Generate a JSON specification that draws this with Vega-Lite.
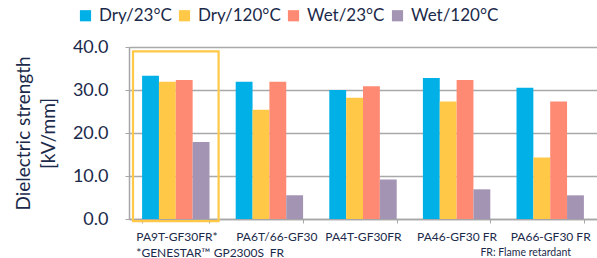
{
  "$schema": "https://vega.github.io/schema/vega-lite/v6.json",
  "autosize": "none",
  "width": 468,
  "height": 172,
  "padding": {"left": 129, "top": 47, "right": 0, "bottom": 39},
  "config": {
    "font": "Lato",
    "view": {"stroke": null},
    "axis": {"labelColor": "#1B2A4A", "titleColor": "#1B2A4A", "titleFontWeight": "normal"},
    "axisY": {
      "titleFontSize": 19, "titleLineHeight": 25, "titlePadding": 14,
      "labelFontSize": 18, "format": ".1f", "values": [0, 10, 20, 30, 40], "labelOverlap": false,
      "labelPadding": 17, "ticks": true, "tickSize": 4, "tickColor": "#A6A6A6", "domainColor": "#A6A6A6", "domainWidth": 1.5,
      "grid": true, "gridColor": "#A9A9A9", "gridWidth": 1.4
    },
    "axisX": {
      "labelAngle": 0, "labelFontSize": 12, "labelLineHeight": 16,
      "domainColor": "#A6A6A6", "domainWidth": 1.5, "tickColor": "#A6A6A6", "tickBand": "extent", "tickSize": 4, "labelPadding": 8
    },
    "legend": {"labelColor": "#1B2A4A"}
  },
  "title": {"text": "FR: Flame retardant", "orient": "bottom", "anchor": "end", "fontSize": 10.5, "fontWeight": "normal", "color": "#1B2A4A", "offset": -10, "dx": -26},
  "datasets": {
    "bars": [
      {"material": "PA9T-GF30FR*", "condition": "Dry/23°C", "value": 33.3},
      {"material": "PA9T-GF30FR*", "condition": "Dry/120°C", "value": 31.9},
      {"material": "PA9T-GF30FR*", "condition": "Wet/23°C", "value": 32.3},
      {"material": "PA9T-GF30FR*", "condition": "Wet/120°C", "value": 17.9},
      {"material": "PA6T/66-GF30 FR", "condition": "Dry/23°C", "value": 31.9},
      {"material": "PA6T/66-GF30 FR", "condition": "Dry/120°C", "value": 25.4},
      {"material": "PA6T/66-GF30 FR", "condition": "Wet/23°C", "value": 31.9},
      {"material": "PA6T/66-GF30 FR", "condition": "Wet/120°C", "value": 5.5},
      {"material": "PA4T-GF30FR", "condition": "Dry/23°C", "value": 30.0},
      {"material": "PA4T-GF30FR", "condition": "Dry/120°C", "value": 28.2},
      {"material": "PA4T-GF30FR", "condition": "Wet/23°C", "value": 30.9},
      {"material": "PA4T-GF30FR", "condition": "Wet/120°C", "value": 9.2},
      {"material": "PA46-GF30 FR", "condition": "Dry/23°C", "value": 32.8},
      {"material": "PA46-GF30 FR", "condition": "Dry/120°C", "value": 27.3},
      {"material": "PA46-GF30 FR", "condition": "Wet/23°C", "value": 32.3},
      {"material": "PA46-GF30 FR", "condition": "Wet/120°C", "value": 6.9},
      {"material": "PA66-GF30 FR", "condition": "Dry/23°C", "value": 30.5},
      {"material": "PA66-GF30 FR", "condition": "Dry/120°C", "value": 14.3},
      {"material": "PA66-GF30 FR", "condition": "Wet/23°C", "value": 27.3},
      {"material": "PA66-GF30 FR", "condition": "Wet/120°C", "value": 5.5}
    ],
    "highlight": [
      {"material": "PA9T-GF30FR*", "value": 39.0, "bottom": -0.5}
    ]
  },
  "layer": [
    {
      "data": {"name": "bars"},
      "mark": {"type": "bar"},
      "encoding": {
        "x": {
          "field": "material", "type": "nominal",
          "sort": ["PA9T-GF30FR*", "PA6T/66-GF30 FR", "PA4T-GF30FR", "PA46-GF30 FR", "PA66-GF30 FR"],
          "scale": {"domain": ["PA9T-GF30FR*", "PA6T/66-GF30 FR", "PA4T-GF30FR", "PA46-GF30 FR", "PA66-GF30 FR"], "paddingInner": 0.28, "paddingOuter": 0.14},
          "axis": {
            "title": null,
            "labelAlign": {"condition": {"test": "datum.value == 'PA9T-GF30FR*'", "value": "left"}, "value": "center"},
            "labelOffset": {"condition": [{"test": "datum.value == 'PA9T-GF30FR*'", "value": -40}, {"test": "datum.value == 'PA6T/66-GF30 FR'", "value": 7}], "value": 0},
            "labelExpr": "datum.label == 'PA9T-GF30FR*' ? ['PA9T-GF30FR*', '*GENESTAR™ GP2300S'] : datum.label == 'PA6T/66-GF30 FR' ? ['PA6T/66-GF30', 'FR'] : datum.label"
          }
        },
        "xOffset": {"field": "condition", "type": "nominal", "sort": ["Dry/23°C", "Dry/120°C", "Wet/23°C", "Wet/120°C"], "scale": {"paddingInner": 0, "paddingOuter": 0}},
        "y": {
          "field": "value", "type": "quantitative",
          "scale": {"domain": [0, 40]},
          "axis": {"title": ["Dielectric strength", "[kV/mm]"]}
        },
        "color": {
          "field": "condition", "type": "nominal",
          "scale": {"domain": ["Dry/23°C", "Dry/120°C", "Wet/23°C", "Wet/120°C"], "range": ["#00B0E6", "#FFC847", "#FF8A74", "#A394B4"]},
          "legend": {
            "title": null, "orient": "none", "direction": "horizontal", "legendX": -52, "legendY": -40,
            "symbolType": "square", "symbolSize": 125, "labelFontSize": 17, "columnPadding": 4, "labelOffset": 5
          }
        }
      }
    },
    {
      "data": {"name": "highlight"},
      "mark": {"type": "bar", "fill": null, "fillOpacity": 0, "stroke": "#FFC847", "strokeWidth": 2.2, "width": {"band": 1.27}},
      "encoding": {
        "x": {
          "field": "material", "type": "nominal",
          "sort": ["PA9T-GF30FR*", "PA6T/66-GF30 FR", "PA4T-GF30FR", "PA46-GF30 FR", "PA66-GF30 FR"]
        },
        "y": {"field": "value", "type": "quantitative"},
        "y2": {"field": "bottom"}
      }
    }
  ]
}
